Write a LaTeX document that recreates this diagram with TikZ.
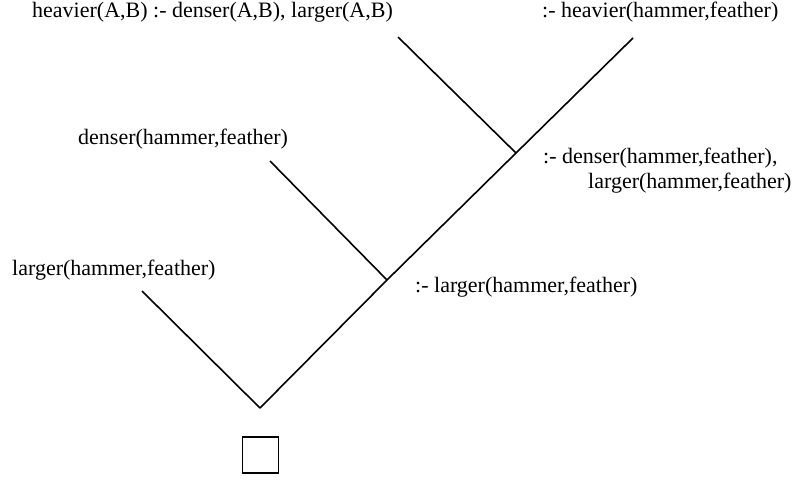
\documentclass[tikz,border=0pt]{standalone}
\usepackage{fontspec}
\setmainfont{Liberation Serif}
\begin{document}
\begin{tikzpicture}[x=1pt,y=-1pt,
  lbl/.style={inner sep=0pt,anchor=base west,font=\fontsize{22}{26}\selectfont},
  edge/.style={line width=1.6pt},
  goal/.style={draw,line width=1.6pt,minimum size=36pt,inner sep=0pt}]
\useasboundingbox (0,0) rectangle (792,480);
% labels
\node[lbl] (rule) at (32,17) {heavier(A,B) :- denser(A,B), larger(A,B)};
\node[lbl] (q0) at (542,17) {:- heavier(hammer,feather)};
\node[lbl] (f1) at (78,144) {denser(hammer,feather)};
\node[lbl] (q1a) at (543,163) {:- denser(hammer,feather),};
\node[lbl] (q1b) at (588,188) {larger(hammer,feather)};
\node[lbl] (f2) at (12,275) {larger(hammer,feather)};
\node[lbl] (q2) at (415,292) {:- larger(hammer,feather)};
% structure
\coordinate (t0) at (633,38);
\coordinate (r0) at (398,37);
\coordinate (j1) at (516,153);
\coordinate (r1) at (270,161);
\coordinate (j2) at (387,280);
\coordinate (r2) at (142,291);
\coordinate (j3) at (260,408);
\draw[edge] (t0) -- (j1) -- (j2) -- (j3);
\draw[edge] (r0) -- (j1);
\draw[edge] (r1) -- (j2);
\draw[edge] (r2) -- (j3);
\node[goal] (empty) at (260.5,455) {};
\end{tikzpicture}
\end{document}
